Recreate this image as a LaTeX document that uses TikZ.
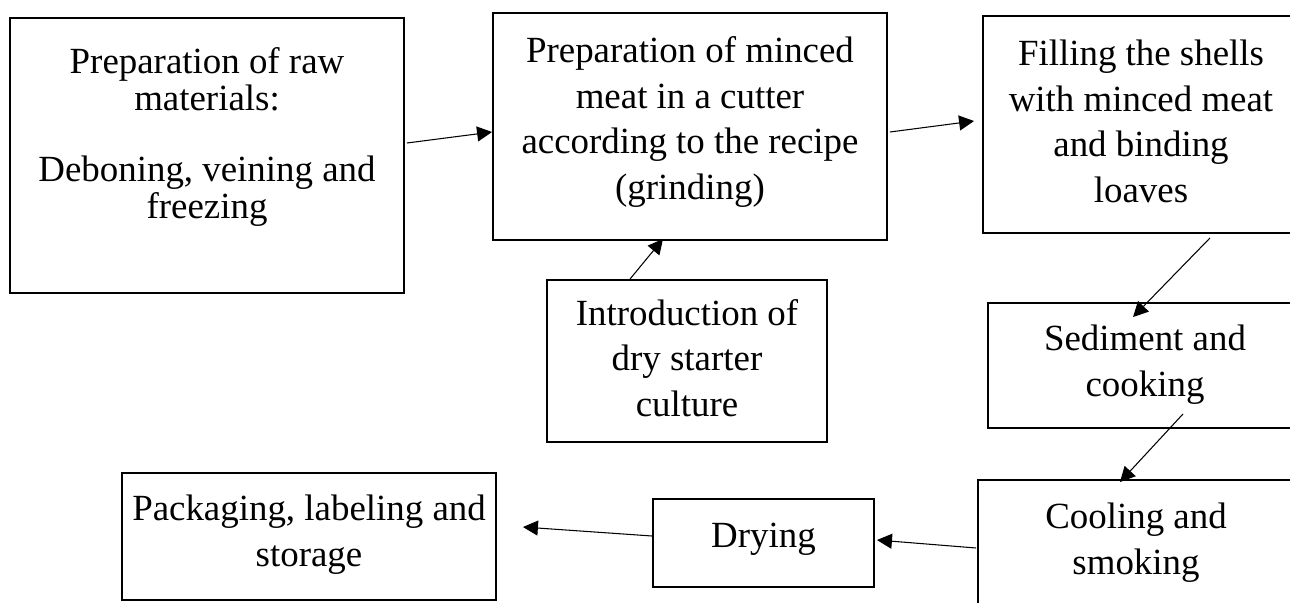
\documentclass[tikz,border=0pt]{standalone}
\usepackage{fontspec}
\setmainfont{Liberation Serif}
\usetikzlibrary{arrows.meta,calc}

\newcommand\stepfont{\fontsize{21}{26}\selectfont}
\tikzset{
  stepbox/.style={draw, line width=1.1pt, inner sep=0pt},
  steptext/.style={align=center, inner sep=0pt, font=\stepfont},
  flow/.style={line width=0.6pt, -{Triangle[length=0.3cm,width=0.3cm]}}
}

\begin{document}
\begin{tikzpicture}[x=0.02cm, y=-0.02cm]
        \useasboundingbox (0,0) rectangle (1290,602);
        \clip (0,0) rectangle (1290,602);

        % boxes
        \node[stepbox, minimum width=7.88cm, minimum height=5.5cm]  (raw)    at (207,155.5)  {};
        \node[stepbox, minimum width=7.88cm, minimum height=4.54cm] (mince)  at (690,126.5)  {};
        \node[stepbox, minimum width=6.34cm, minimum height=4.34cm] (fill)   at (1141.5,124.5) {};
        \node[stepbox, minimum width=6.14cm, minimum height=2.5cm]  (sed)    at (1141.5,365.5) {};
        \node[stepbox, minimum width=6.44cm, minimum height=2.8cm]  (cool)   at (1139,550)   {};
        \node[stepbox, minimum width=5.6cm, minimum height=3.24cm]  (intro)  at (687,361)    {};
        \node[stepbox, minimum width=7.48cm, minimum height=2.54cm] (pack)   at (309,536.5)  {};
        \node[stepbox, minimum width=4.42cm, minimum height=1.76cm] (dry)    at (763.5,543)  {};

        % texts
        \node[steptext, font=\fontsize{21}{21}\selectfont] (rawtext) at (207,137)
             {Preparation of raw\\materials:\\[0.7cm]Deboning, veining and\\freezing};
        \node[steptext] (mincetext) at (690,122)
             {Preparation of minced\\meat in a cutter\\according to the recipe\\(grinding)};
        \node[steptext] (filltext)  at (1141,121.5) {Filling the shells\\with minced meat\\and binding\\loaves};
        \node[steptext] (sedtext)   at (1145,365)   {Sediment and\\cooking};
        \node[steptext] (cooltext)  at (1136,543)   {Cooling and\\smoking};
        \node[steptext] (introtext) at (687,358)    {Introduction of\\dry starter\\culture};
        \node[steptext] (packtext)  at (309,535)    {Packaging, labeling and\\storage};
        \node[steptext] (drytext)   at (763.5,539)  {Drying};

        % arrows
        \draw[flow] ($(raw.east)+(2,-12.5)$) -- ($(mince.west)+(0,5.5)$);
        \draw[flow] ($(mince.east)+(2,5.5)$) -- ($(fill.west)+(-8,-3.5)$);
        \draw[flow] ($(fill.south)+(68.5,4)$) -- ($(sed.north)+(-8.5,15)$);
        \draw[flow] ($(sed.south)+(41.5,-15)$) -- ($(cool.north)+(-19,3)$);
        \draw[flow] ($(intro.north)+(-57,0)$) -- ($(mince.south)+(-27,-2)$);
        \draw[flow] ($(cool.west)+(-1,-2)$) -- ($(dry.east)+(2,-3)$);
        \draw[flow] ($(dry.west)+(0,-7)$) -- ($(pack.east)+(26,-9.5)$);
\end{tikzpicture}
\end{document}
